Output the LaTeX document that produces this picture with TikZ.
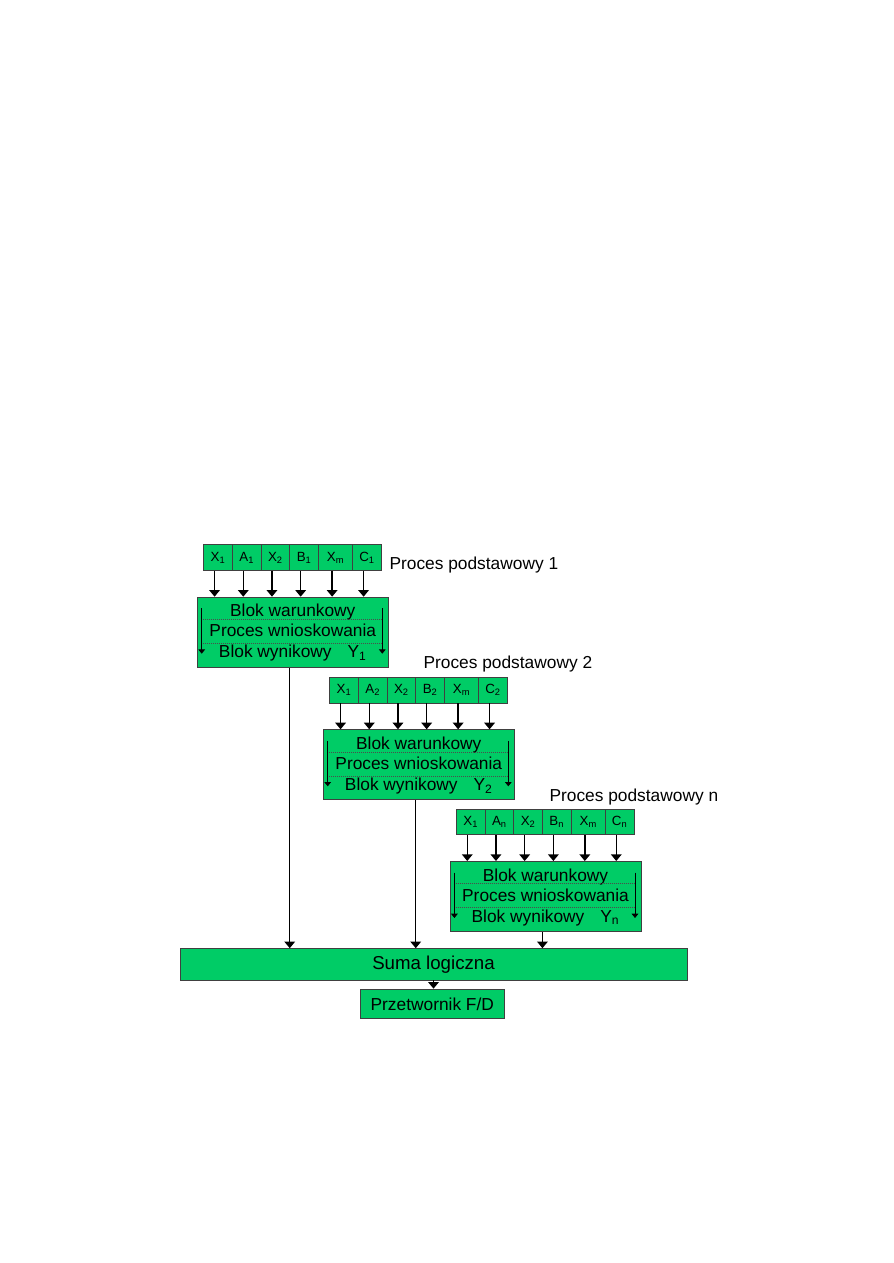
\documentclass[tikz,border=0pt]{standalone}
\usepackage{fontspec}
\setmainfont{Liberation Sans}
\usetikzlibrary{arrows.meta}
\definecolor{procgreen}{RGB}{0,204,102}
\begin{document}
\begin{tikzpicture}[
        x=0.75pt, y=-0.75pt,
        cell/.style={rectangle, draw=black!75, fill=procgreen, line width=0.6pt, minimum height=19.1pt, inner sep=0pt, font=\fontsize{10}{11}\selectfont},
        block/.style={rectangle, draw=black!75, fill=procgreen, line width=0.6pt, minimum width=143.25pt, minimum height=52.5pt, inner sep=0pt},
        wide/.style={block, minimum width=380.25pt, minimum height=23.55pt, font=\fontsize{14}{16}\selectfont},
        conv/.style={block, minimum width=108.4pt, minimum height=22.1pt, font=\fontsize{13}{15}\selectfont},
        txt/.style={anchor=base, inner sep=0pt, font=\fontsize{13}{15}\selectfont},
        title/.style={anchor=base west, inner sep=0pt, font=\fontsize{13}{15}\selectfont},
        arrow/.style={-{Triangle[width=8pt, length=5pt]}, line width=1pt},
        small arrow/.style={-{Triangle[width=5pt, length=3.2pt]}, line width=0.6pt},
        sep/.style={densely dotted, line width=0.5pt, black!70}
    ]
    \useasboundingbox (0,0) rectangle (893,1263);

    % Basic processes
    \foreach \k/\bx/\by in {1/197.3/596.7, 2/323.3/729.3, n/450/861}{
        \node[block, anchor=north west] (box\k) at (\bx,\by) {};
        \node[txt] (war\k) at (\bx+95.5,\by+20) {Blok warunkowy};
        \node[txt] (wn\k) at (\bx+95.5,\by+40) {Proces wnioskowania};
        \node[txt] (wyn\k) at (\bx+95.5,\by+61) {Blok wynikowy\hspace{12pt}Y\textsubscript{\k}};
        \draw[sep] (\bx+5.7,\by+22.6) -- (\bx+184.3,\by+22.6);
        \draw[sep] (\bx+5.7,\by+46.6) -- (\bx+184.3,\by+46.6);
        \draw[small arrow] (\bx+4.4,\by+11.6) -- (\bx+4.4,\by+57);
        \draw[small arrow] (\bx+185,\by+11.6) -- (\bx+185,\by+57);
        % input cells
        \foreach \lab/\off/\w [count=\i] in {X\textsubscript{1}/0/21.5pt, A\textsubscript{\k}/28.7/21.5pt, X\textsubscript{2}/57.4/21.5pt, B\textsubscript{\k}/86.1/21.5pt, X\textsubscript{m}/114.8/25.65pt, C\textsubscript{\k}/149/21.5pt}{
            \node[cell, minimum width=\w, anchor=south west] (c\i-\k) at (\bx+6+\off,\by-26) {\lab};
            \draw[arrow] ([xshift=-2.6pt]c\i-\k.south) -- ([xshift=-2.6pt]c\i-\k.south |- box\k.north);
        }
    }

    % Titles
    \node[title] (p1) at (389.3,569) {Proces podstawowy 1};
    \node[title] (p2) at (423.3,668.3) {Proces podstawowy 2};
    \node[title] (pn) at (549.3,801.3) {Proces podstawowy n};

    % Output
    \node[wide] (suma) at (433.5,964.3) {Suma logiczna};
    \node[conv] (fd) at (432.3,1003.8) {Przetwornik F/D};

    \foreach \k in {1,2,n}
        \draw[arrow] ([xshift=-2.6pt]box\k.south) -- ([xshift=-2.6pt]box\k.south |- suma.north);
    \draw[arrow] (suma.south) -- (suma.south |- fd.north);

\end{tikzpicture}
\end{document}
